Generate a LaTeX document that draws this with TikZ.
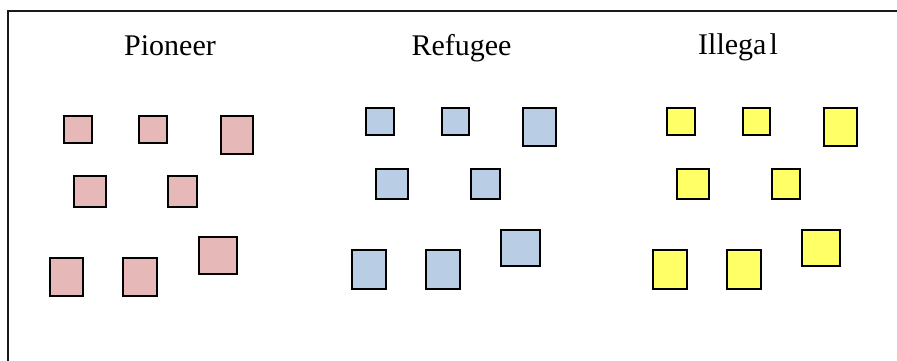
\documentclass[tikz,border=0pt]{standalone}
\usepackage{fontspec}
\setmainfont{Liberation Serif}
\definecolor{pinkfill}{HTML}{E6B9B8}
\definecolor{bluefill}{HTML}{B9CDE5}
\definecolor{yellowfill}{HTML}{FFFF66}
\begin{document}
\begin{tikzpicture}[x=1pt,y=-1pt,
  frame/.style={line width=2.2pt,black!90},
  sq/.style={draw=black,line width=2pt,inner sep=0pt,outer sep=0pt},
  sz/.style 2 args={minimum width={#1pt-2pt},minimum height={#2pt-2pt}},
  pbox/.style={sq,fill=pinkfill},
  bbox/.style={sq,fill=bluefill},
  ybox/.style={sq,fill=yellowfill},
  title/.style={anchor=base,inner sep=0pt,font=\fontsize{30}{32}\selectfont}]
\useasboundingbox (0,0) rectangle (897,360);
% open frame: left and top edges
\coordinate (fb) at (8,362);
\coordinate (fc) at (8,11);
\coordinate (fr) at (899,11);
\draw[frame] (fb) -- (fc) -- (fr);

% column titles
\node[title] (tp) at (170,55) {Pioneer};
\node[title] (tr) at (461.5,55) {Refugee};
\node[title] (ti) at (738,54) {Illega\kern3pt l};

% Pioneer group
\node[pbox,sz={30}{29}] (p1) at (78,129.5) {};
\node[pbox,sz={30}{29}] (p2) at (153,129.5) {};
\node[pbox,sz={34}{40}] (p3) at (237,135) {};
\node[pbox,sz={34}{33}] (p4) at (90,191.5) {};
\node[pbox,sz={31}{33}] (p5) at (182.5,191.5) {};
\node[pbox,sz={40}{39}] (p6) at (218,255.5) {};
\node[pbox,sz={35}{40}] (p7) at (66.5,277) {};
\node[pbox,sz={36}{40}] (p8) at (140,277) {};

% Refugee group
\node[bbox,sz={30}{29}] (r1) at (380,121.5) {};
\node[bbox,sz={29}{29}] (r2) at (455.5,121.5) {};
\node[bbox,sz={35}{40}] (r3) at (539.5,127) {};
\node[bbox,sz={34}{32}] (r4) at (392,184) {};
\node[bbox,sz={31}{32}] (r5) at (485.5,184) {};
\node[bbox,sz={41}{38}] (r6) at (520.5,248) {};
\node[bbox,sz={36}{41}] (r7) at (369,269.5) {};
\node[bbox,sz={36}{41}] (r8) at (443,269.5) {};

% Illegal group
\node[ybox,sz={30}{29}] (i1) at (681,121.5) {};
\node[ybox,sz={29}{29}] (i2) at (756.5,121.5) {};
\node[ybox,sz={35}{40}] (i3) at (840.5,127) {};
\node[ybox,sz={34}{32}] (i4) at (693,184) {};
\node[ybox,sz={30}{32}] (i5) at (786,184) {};
\node[ybox,sz={40}{38}] (i6) at (821,248) {};
\node[ybox,sz={36}{41}] (i7) at (670,269.5) {};
\node[ybox,sz={36}{41}] (i8) at (744,269.5) {};
\end{tikzpicture}
\end{document}
